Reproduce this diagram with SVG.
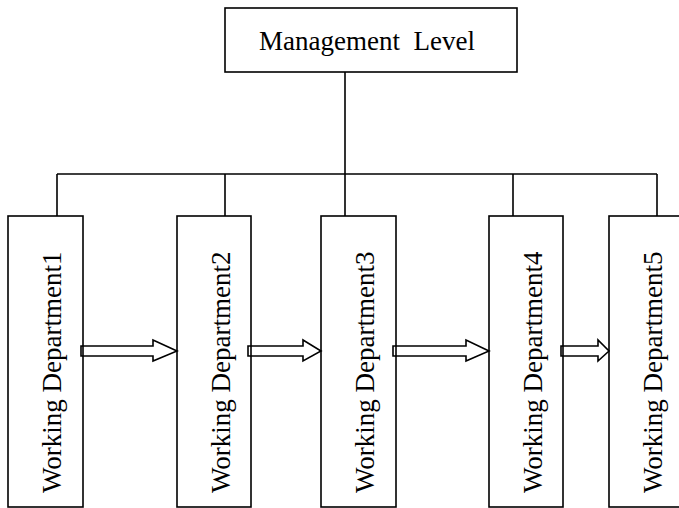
<svg xmlns="http://www.w3.org/2000/svg" width="679" height="508" viewBox="0 0 679 508">
<style>
.box{fill:#fff;stroke:#000;stroke-width:1.6}
.ln{fill:none;stroke:#000;stroke-width:1.6}
.arr{fill:none;stroke:#000;stroke-width:1.6;stroke-linejoin:miter}
.t{font-family:"Liberation Serif","Times New Roman",serif;font-size:27px;fill:#000;white-space:pre}
</style>
<rect width="679" height="508" fill="#fff"/>
<g id="connectors">
<path class="ln" d="M345,72 V174 M57,174 H657 M57,174 V216 M225,174 V216 M345,174 V216 M513,174 V216 M657,174 V216"/>
</g>
<g id="management">
<rect class="box" x="225" y="8" width="292" height="64"/>
<text class="t" x="259" y="50">Management  Level</text>
</g>
<g id="dept1">
<rect class="box" x="8" y="216" width="75" height="291"/>
<text class="t" transform="translate(61,493) rotate(-90)">Working Department1</text>
</g>
<g id="dept2">
<rect class="box" x="177" y="216" width="74" height="291"/>
<text class="t" transform="translate(230,493) rotate(-90)">Working Department2</text>
</g>
<g id="dept3">
<rect class="box" x="321" y="216" width="75" height="291"/>
<text class="t" transform="translate(374,493) rotate(-90)">Working Department3</text>
</g>
<g id="dept4">
<rect class="box" x="489" y="216" width="74" height="291"/>
<text class="t" transform="translate(542,493) rotate(-90)">Working Department4</text>
</g>
<g id="dept5">
<rect class="box" x="609" y="216" width="74" height="291"/>
<text class="t" transform="translate(662,493) rotate(-90)">Working Department5</text>
</g>
<g id="arrows">
<path class="arr" d="M81,346 H153 V340 L177,351 L153,361 V356 H81 Z"/>
<path class="arr" d="M248,346 H303 V340 L321,351 L303,361 V356 H248 Z"/>
<path class="arr" d="M393,346 H466 V340 L489,351 L466,361 V356 H393 Z"/>
<path class="arr" d="M561,346 H598 V340 L609,351 L598,361 V356 H561 Z"/>
</g>
</svg>
